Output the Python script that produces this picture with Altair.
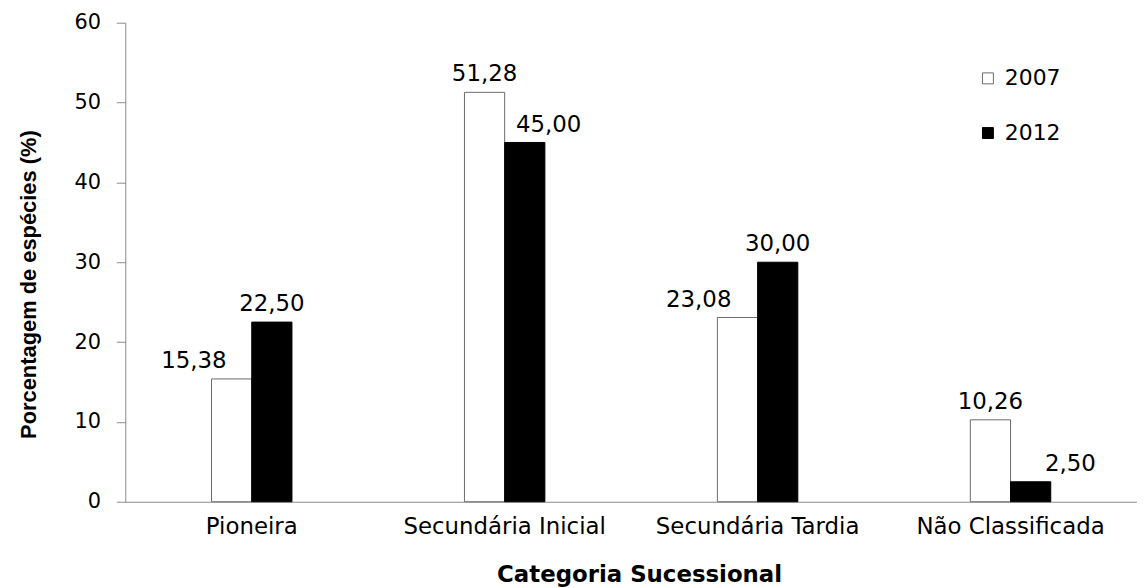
import altair as alt
import pandas as pd

# ---- data ----
categories = ["Pioneira", "Secundária Inicial", "Secundária Tardia", "Não Classificada"]
years = ["2007", "2012"]
values_2007 = [15.38, 51.28, 23.08, 10.26]
values_2012 = [22.50, 45.00, 30.00, 2.50]
y_ticks = [0, 10, 20, 30, 40, 50, 60]

rows = []
for i, cat in enumerate(categories):
    for year, vals in (("2007", values_2007), ("2012", values_2012)):
        v = vals[i]
        rows.append({"category": cat, "year": year, "value": v,
                     "label": f"{v:.2f}".replace(".", ",")})
df = pd.DataFrame(rows)

# manual label nudges seen in the reference (pixels)
label_nudge = {
    ("Pioneira", "2007"): -38,
    ("Secundária Inicial", "2012"): 24,
    ("Secundária Tardia", "2007"): -39,
    ("Não Classificada", "2012"): 40,
}

FONT = "DejaVu Sans"
AXIS_GRAY = "#8a8a8a"
PAD_IN = 0.682

base = alt.Chart(df).encode(
    x=alt.X(
        "category:N",
        sort=categories,
        scale=alt.Scale(paddingInner=PAD_IN, paddingOuter=PAD_IN / 2),
        axis=alt.Axis(
            title="Categoria Sucessional",
            labelAngle=0,
            labelLimit=0,
            ticks=False,
            domainColor=AXIS_GRAY,
            domainWidth=1,
            labelFont=FONT,
            labelFontSize=23,
            labelColor="black",
            labelPadding=14,
            titleFont=FONT,
            titleFontSize=23,
            titleFontWeight="bold",
            titleColor="black",
            titleX=517,
            titleY=80,
            titleBaseline="alphabetic",
            titleAlign="center",
        ),
    ),
    xOffset=alt.XOffset(
        "year:N", sort=years, scale=alt.Scale(paddingInner=0, paddingOuter=0)
    ),
    y=alt.Y(
        "value:Q",
        scale=alt.Scale(domain=[0, 60], nice=False),
        axis=alt.Axis(
            values=y_ticks,
            format="d",
            title="Porcentagem de espécies  (%)",
            grid=False,
            domainColor=AXIS_GRAY,
            domainWidth=1,
            tickColor=AXIS_GRAY,
            tickWidth=1,
            tickSize=9,
            labelFont=FONT,
            labelFontSize=21,
            labelColor="black",
            labelPadding=16,
            titleFont="Liberation Sans",
            titleFontSize=22,
            titleFontWeight="bold",
            titleColor="black",
            titleX=-97,
            titleY=263,
            titleAngle=270,
            titleBaseline="middle",
            titleAlign="center",
        ),
    ),
)

legend = alt.Legend(
    title=None,
    orient="none",
    legendX=857,
    legendY=45,
    symbolType="square",
    symbolSize=121,
    symbolStrokeWidth=1,
    labelFont=FONT,
    labelFontSize=22,
    labelColor="black",
    labelOffset=6,
    rowPadding=33,
    padding=0,
)

bars = base.mark_bar(strokeWidth=1).encode(
    fill=alt.Fill("year:N", sort=years,
                  scale=alt.Scale(domain=years, range=["#ffffff", "#000000"]),
                  legend=legend),
    stroke=alt.Stroke("year:N", sort=years,
                      scale=alt.Scale(domain=years, range=["#6a6a6a", "#000000"]),
                      legend=legend),
)

def sel_expr(cat, year):
    return f"datum.category === '{cat}' && datum.year === '{year}'"

default_expr = " && ".join(f"!({sel_expr(c, y)})" for (c, y) in label_nudge)

text_layers = [
    base.mark_text(font=FONT, fontSize=23, baseline="alphabetic", dy=-11,
                   color="black")
    .encode(text="label:N")
    .transform_filter(default_expr)
]
for (c, y), dx in label_nudge.items():
    text_layers.append(
        base.mark_text(font=FONT, fontSize=23, baseline="alphabetic", dy=-11,
                       dx=dx, color="black")
        .encode(text="label:N")
        .transform_filter(sel_expr(c, y))
    )

chart = (
    alt.layer(bars, *text_layers)
    .properties(
        width=1018,
        height=482,
        autosize=alt.AutoSizeParams(type="none"),
        padding={"left": 118, "top": 13, "right": 0, "bottom": 86},
        background="white",
    )
    .configure_view(stroke=None)
)

chart.save("out.html", embed_options={"renderer": "svg", "actions": False})
